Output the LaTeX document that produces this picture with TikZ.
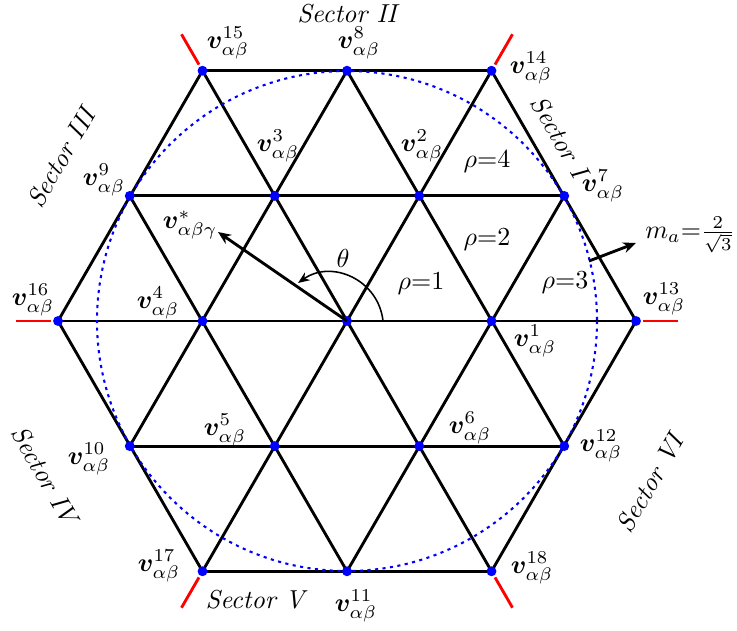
\documentclass[tikz,border=0pt]{standalone}
\usepackage{amsmath,bm}
\usetikzlibrary{arrows.meta}
\begin{document}
\begin{tikzpicture}[x=0.385pt,y=-0.385pt,
  gridline/.style={line width=1.1pt, black},
  vdot/.style={circle, fill=blue, inner sep=0pt, minimum size=3.8pt},
  lbl/.style={inner sep=0pt},
  redline/.style={red, line width=1.1pt},
  sector/.style={inner sep=0pt, font=\itshape},
  bigarrow/.style={line width=1.1pt, -{Stealth[length=5pt,width=4.2pt]}},
  ]
\useasboundingbox (0,0) rectangle (737,630);
% lattice points
\coordinate (p0) at (347,321);
\coordinate (p1) at (491.5,321);
\coordinate (p2) at (419.25,195.9);
\coordinate (p3) at (274.75,195.9);
\coordinate (p4) at (202.5,321);
\coordinate (p5) at (274.75,446.1);
\coordinate (p6) at (419.25,446.1);
\coordinate (p7) at (564.25,195.9);
\coordinate (p8) at (347,70.7);
\coordinate (p9) at (129.75,195.9);
\coordinate (p10) at (129.75,446.1);
\coordinate (p11) at (347,571.3);
\coordinate (p12) at (564.25,446.1);
\coordinate (p13) at (636,321);
\coordinate (p14) at (491.5,70.7);
\coordinate (p15) at (202.5,70.7);
\coordinate (p16) at (58,321);
\coordinate (p17) at (202.5,571.3);
\coordinate (p18) at (491.5,571.3);
% red extension ends
\coordinate (r15a) at (199,64.6);  \coordinate (r15b) at (181.5,34.3);
\coordinate (r14a) at (495,64.6);  \coordinate (r14b) at (512.5,34.3);
\coordinate (r16a) at (51,321);    \coordinate (r16b) at (16,321);
\coordinate (r13a) at (643,321);   \coordinate (r13b) at (678,321);
\coordinate (r17a) at (199,577.4); \coordinate (r17b) at (181.5,607.7);
\coordinate (r18a) at (495,577.4); \coordinate (r18b) at (512.5,607.7);
% grid
\draw[gridline] (p15) -- (p14);
\draw[gridline] (p9) -- (p7);
\draw[gridline] (p16) -- (p13);
\draw[gridline] (p10) -- (p12);
\draw[gridline] (p17) -- (p18);
\draw[gridline] (p16) -- (p15);
\draw[gridline] (p10) -- (p8);
\draw[gridline] (p17) -- (p14);
\draw[gridline] (p11) -- (p7);
\draw[gridline] (p18) -- (p13);
\draw[gridline] (p17) -- (p16);
\draw[gridline] (p11) -- (p9);
\draw[gridline] (p18) -- (p15);
\draw[gridline] (p12) -- (p8);
\draw[gridline] (p13) -- (p14);
% red lines
\draw[redline] (r15a) -- (r15b);
\draw[redline] (r14a) -- (r14b);
\draw[redline] (r16a) -- (r16b);
\draw[redline] (r13a) -- (r13b);
\draw[redline] (r17a) -- (r17b);
\draw[redline] (r18a) -- (r18b);
% circle
\draw[blue, line width=0.8pt, dash pattern=on 1.2pt off 1.7pt] (p0) circle[radius=250];
% dots
\foreach \i in {0,1,...,18} { \node[vdot] (d\i) at (p\i) {}; }
% reference vector
\coordinate (vs) at (218,232);
\draw[bigarrow] (p0) -- (vs);
\coordinate (a1) at (383,321);
\coordinate (a2) at (298,283);
\draw[line width=0.6pt, -{Stealth[length=4.5pt,width=3.6pt]}] (a1) .. controls (378.5,279.8) and (331.9,259.2) .. (a2);
\node[lbl] (th) at (343,258) {$\theta$};
% m_a arrow
\coordinate (m1) at (589,261);
\coordinate (m2) at (636,243);
\draw[bigarrow] (m1) -- (m2);
\node[lbl] (ma) at (690,235) {$m_a{=}\frac{2}{\sqrt{3}}$};
% rho labels
\node[lbl] (r1) at (421,284) {$\rho{=}1$};
\node[lbl] (r2) at (487,240) {$\rho{=}2$};
\node[lbl] (r3) at (565,283) {$\rho{=}3$};
\node[lbl] (r4) at (487,162) {$\rho{=}4$};
% vector labels
\node[lbl] (l1) at (535,341) {$\bm{v}^{1}_{\alpha\beta}$};
\node[lbl] (l2) at (422,146) {$\bm{v}^{2}_{\alpha\beta}$};
\node[lbl] (l3) at (278,146) {$\bm{v}^{3}_{\alpha\beta}$};
\node[lbl] (l4) at (158,303) {$\bm{v}^{4}_{\alpha\beta}$};
\node[lbl] (l5) at (225,430) {$\bm{v}^{5}_{\alpha\beta}$};
\node[lbl] (l6) at (470,428) {$\bm{v}^{6}_{\alpha\beta}$};
\node[lbl] (l7) at (603,186) {$\bm{v}^{7}_{\alpha\beta}$};
\node[lbl] (l8) at (359,43) {$\bm{v}^{8}_{\alpha\beta}$};
\node[lbl] (l9) at (104,180) {$\bm{v}^{9}_{\alpha\beta}$};
\node[lbl] (l10) at (89,459) {$\bm{v}^{10}_{\alpha\beta}$};
\node[lbl] (l11) at (356,606) {$\bm{v}^{11}_{\alpha\beta}$};
\node[lbl] (l12) at (601,446) {$\bm{v}^{12}_{\alpha\beta}$};
\node[lbl] (l13) at (664,299) {$\bm{v}^{13}_{\alpha\beta}$};
\node[lbl] (l14) at (531,68) {$\bm{v}^{14}_{\alpha\beta}$};
\node[lbl] (l15) at (228,43) {$\bm{v}^{15}_{\alpha\beta}$};
\node[lbl] (l16) at (33,300) {$\bm{v}^{16}_{\alpha\beta}$};
\node[lbl] (l17) at (159,566) {$\bm{v}^{17}_{\alpha\beta}$};
\node[lbl] (l18) at (532,568) {$\bm{v}^{18}_{\alpha\beta}$};
\node[lbl] (lvs) at (190,225) {$\bm{v}^{*}_{\alpha\beta\gamma}$};
% sectors
\node[sector] (s1) at (560,137) [rotate=-60] {Sector I};
\node[sector] (s2) at (347,14) {Sector II};
\node[sector] (s3) at (61,158) [rotate=60] {Sector III};
\node[sector] (s4) at (45,475) [rotate=-60] {Sector IV};
\node[sector] (s5) at (255,600) {Sector V};
\node[sector] (s6) at (650,483) [rotate=60] {Sector VI};
\end{tikzpicture}
\end{document}
